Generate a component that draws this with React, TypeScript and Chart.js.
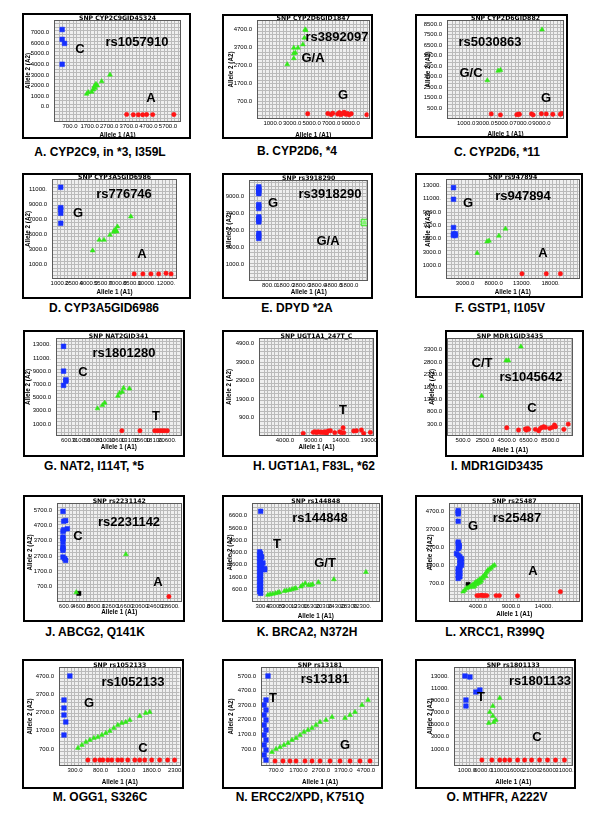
import React, { useEffect, useRef } from "react";
import { Chart, registerables } from "chart.js";
Chart.register(...registerables);

const FAMILY = "'Liberation Sans', Arial, Helvetica, sans-serif";
const TITLE_FAMILY = "'DejaVu Sans', Verdana, sans-serif";
Chart.defaults.font.family = FAMILY;

type Pt = [number, number];

// ---------------- A ----------------
const A_title = "SNP CYP2C9GID45324";
const A_xTicks = [700, 1700, 2700, 3700, 4700, 5700];
const A_yTicks = [0, 1000, 2000, 3000, 4000, 5000, 6000, 7000];
const A_blue: Pt[] = [[300, 7280], [300, 6350], [420, 5970], [300, 4000]];
const A_green: Pt[] = [[1550, 1200], [1635, 1360], [1805, 1390], [1890, 1610], [1925, 1860], [1975, 1980], [2025, 2140], [2095, 1980], [1975, 1760], [2315, 2390], [2740, 3010]];
const A_red: Pt[] = [[3590, -730], [3930, -760], [4185, -770], [4410, -760], [4610, -740], [4920, -750], [6000, -740]];

// ---------------- B ----------------
const B_title = "SNP CYP2D6GID1847";
const B_xTicks = [1000, 3000, 5000, 7000, 9000];
const B_yTicks = [700, 1700, 2700, 3700, 4700];
const B_green: Pt[] = [[2500, 2765], [3170, 3096], [3170, 3372], [3337, 3410], [3170, 3685], [3603, 3685], [4103, 3870], [4270, 4238], [4403, 4661], [4337, 4698]];
const B_red: Pt[] = [[4600, 20], [6670, 30], [7000, -20], [7170, 50], [7670, 0], [7840, 80], [8000, -30], [8170, 30], [8340, 100], [8500, -10], [8670, 40], [8840, -40], [9070, 20], [10670, -30]];

// ---------------- C ----------------
const C_title = "SNP CYP2D6GID882";
const C_xTicks = [1000, 3000, 5000, 7000, 9000];
const C_yTicks = [500, 1500, 2500, 3500, 4500, 5500, 6500, 7500, 8500];
const C_green: Pt[] = [[3258, 3135], [4406, 4055], [4650, 4119], [9069, 7992]];
const C_red: Pt[] = [[3675, -60], [4650, -150], [6390, -130], [6564, -80], [6670, -100], [7955, -60], [8130, -150], [9000, -50], [9520, -60], [10217, -100], [11017, -90], [11156, -20]];

// ---------------- D ----------------
const D_title = "SNP CYP3A5GID6986";
const D_xTicks = [1000, 2500, 4000, 5500, 7000, 8500, 10000, 12000];
const D_yTicks = [1000, 3000, 5000, 7000, 9000, 11000];
const D_blue: Pt[] = [[1100, 11265], [1100, 8563], [1100, 8351], [1100, 7821], [1100, 6497]];
const D_green: Pt[] = [[4403, 2871], [5097, 4285], [5583, 4285], [6208, 4947], [6625, 5477], [6729, 5609], [6833, 5521], [6972, 6051], [8361, 7376], [6600, 5350], [6900, 5400]];
const D_red: Pt[] = [[8708, -219], [9611, -219], [10444, -219], [11243, -219], [12007, -130], [12528, -219]];

// ---------------- E ----------------
const E_title = "SNP rs3918290";
const E_xTicks = [800, 1800, 2800, 3800, 4800, 5800];
const E_yTicks = [1000, 3000, 5000, 7000, 9000];
const E_blue: Pt[] = [[130, 10093], [130, 9898], [130, 9703], [130, 9507], [130, 9312], [130, 8024], [130, 7829], [130, 7556], [130, 6580], [130, 6385], [130, 6190], [130, 5995], [130, 4632], [130, 4355], [130, 4047]];
const E_green: Pt[] = [[6755, 5917]];

// ---------------- F ----------------
const F_title = "SNP rs947894";
const F_xTicks = [3000, 8000, 13000, 18000];
const F_yTicks = [1000, 3000, 5000, 7000, 9000, 11000, 13000];
const F_blue: Pt[] = [[976, 12605], [976, 10876], [976, 6679], [976, 5741], [1300, 5494], [976, 5494], [1300, 5741]];
const F_green: Pt[] = [[5130, 2877], [6860, 4605], [7206, 4704], [8936, 5444], [10090, 6481]];
const F_red: Pt[] = [[12978, -185], [17245, -185], [19725, -185]];

// ---------------- G ----------------
const G_title = "SNP NAT2GID341";
const G_xTicks = [600, 3100, 5600, 8100, 10600, 13100, 15600, 18100, 20600];
const G_yTicks = [1000, 3000, 5000, 7000, 9000, 11000, 13000];
const G_blue: Pt[] = [[-394, 12750], [-394, 9000], [72, 7700], [72, 7500], [-394, 6850]];
const G_green: Pt[] = [[6474, 3360], [7474, 3855], [7940, 4205], [10606, 5255], [10940, 5705], [11474, 5855], [11740, 6455], [12940, 6355]];
const G_red: Pt[] = [[11406, 0], [15074, 0], [18074, 0], [18606, 0], [19140, 0], [19606, 0], [20074, 0], [20606, 0]];

// ---------------- H ----------------
const H_title = "SNP UGT1A1_247T_C";
const H_xTicks = [4000, 9000, 14000, 19000];
const H_yTicks = [900, 1900, 2900, 3900, 4900];
const H_red: Pt[] = [[7233, 66], [9000, 120], [9291, 155], [9586, 102], [9880, 155], [10173, 120], [10467, 137], [10760, 102], [11054, 155], [11348, 66], [11642, 191], [12054, 208], [12818, 102], [13700, 155], [13995, 102], [14289, 368], [14406, 102], [16169, 191], [16640, 208], [17522, 244], [17934, 66], [19109, 120]];

// ---------------- I ----------------
const I_title = "SNP MDR1GID3435";
const I_xTicks = [500, 2500, 4500, 6500, 8500];
const I_yTicks = [300, 800, 1300, 1800, 2300, 2800, 3300];
const I_green: Pt[] = [[5810, 3420], [4454, 2860], [4670, 2860], [2200, 1433]];
const I_red: Pt[] = [[4514, 153], [5594, 60], [6213, 100], [6305, 60], [6429, 127], [6522, 87], [7142, 87], [7450, 33], [7605, 127], [7759, 167], [7914, 193], [8068, 167], [8469, 127], [8685, 167], [8898, 260], [8991, 193], [9762, 87], [10164, 300]];

// ---------------- J ----------------
const J_title = "SNP rs2231142";
const J_xTicks = [600, 4600, 8600, 12600, 16600, 20600, 24600, 28600];
const J_yTicks = [700, 1700, 2700, 3700, 4700, 5700];
const J_blue: Pt[] = [[-300, 5656], [-120, 4998], [413, 5042], [-120, 4428], [858, 4500], [-300, 4318], [-300, 3945], [-300, 3836], [-300, 3616], [-300, 3287], [-300, 3178], [-300, 3068], [-300, 2629], [145, 2520], [413, 2410]];
const J_green: Pt[] = [[16590, 2805], [3260, 283]];
const J_black: Pt[] = [[3970, 217]];
const J_red: Pt[] = [[28150, 9]];

// ---------------- K ----------------
const K_title = "SNP rs144848";
const K_xTicks = [300, 4300, 8300, 12300, 16300, 20300, 24300, 28300, 32300];
const K_yTicks = [600, 1600, 2600, 3600, 4600, 5600, 6600];
const K_blue: Pt[] = [[-436, 6949], [-756, 3644], [-436, 3510], [-756, 3376], [-116, 3240], [-756, 3107], [-436, 2972], [-756, 2838], [310, 2750], [-436, 2704], [-756, 2570], [-116, 2436], [-756, 2301], [844, 2301], [844, 2200], [-436, 2167], [-756, 2032], [-436, 1898], [-756, 1764], [-436, 1630], [-756, 1495], [-436, 1360], [-756, 1226], [-436, 1092], [-756, 958], [-436, 823], [-756, 689], [-436, 555], [-756, 420], [-436, 286]];
const K_green: Pt[] = [[1900, 152], [2647, 206], [3500, 233], [4353, 286], [5100, 340], [5633, 367], [7233, 474], [7980, 501], [8833, 555], [9687, 609], [10433, 662], [10967, 689], [12567, 824], [13100, 958], [13953, 1092], [15020, 958], [15767, 958], [16300, 1012], [18220, 1173], [23233, 1415], [33580, 2006]];

// ---------------- L ----------------
const L_title = "SNP rs25487";
const L_xTicks = [4000, 9000, 14000];
const L_yTicks = [700, 1700, 2700, 3700, 4700];
const L_blue: Pt[] = [[1000, 4755], [1000, 4663], [1000, 4571], [1000, 4166], [1000, 3006], [1000, 2914], [1150, 2822], [1150, 2730], [1000, 2638], [750, 2361], [1000, 2269], [1250, 2177], [1500, 2085], [1250, 1993], [1500, 1901], [1250, 1809], [1500, 1717], [1250, 1625], [1000, 1533], [1250, 1441], [1000, 1349], [1250, 1257], [1000, 1164], [1250, 1072], [1000, 980]];
const L_green: Pt[] = [[1750, 243], [2000, 335], [2250, 427], [2500, 464], [2750, 519], [3000, 575], [3250, 648], [3500, 704], [3650, 759], [3850, 796], [4000, 851], [4250, 925], [4500, 980], [4750, 1072], [5000, 1164], [5150, 1257], [5350, 1349], [5500, 1441], [5750, 1496], [6000, 1569], [6250, 1662], [6500, 1717], [3500, 550], [3250, 500], [4000, 700], [4500, 850], [4750, 1000], [3750, 650], [5200, 1100], [4300, 760]];
const L_black: Pt[] = [[2500, 648]];
const L_red: Pt[] = [[3850, 22], [4150, 22], [4500, 40], [4750, 22], [5000, 30], [5350, 22], [6750, 22], [7250, 22], [10000, 10], [16500, 243]];

// ---------------- M ----------------
const M_title = "SNP rs1052133";
const M_xTicks = [300, 800, 1300, 1800, 2300];
const M_yTicks = [700, 1700, 2700, 3700, 4700];
const M_blue: Pt[] = [[200, 4700], [85, 3385], [85, 2946], [85, 2563], [120, 2180], [85, 1467]];
const M_green: Pt[] = [[358, 755], [436, 919], [514, 1084], [592, 1193], [670, 1303], [748, 1358], [826, 1467], [904, 1577], [982, 1686], [1060, 1851], [1138, 2015], [1216, 2125], [1294, 2179], [1372, 2289], [1567, 2508], [1684, 2673], [1762, 2727]];
const M_red: Pt[] = [[553, 97], [690, 97], [787, 97], [846, 97], [943, 97], [1021, 97], [1138, 97], [1216, 97], [1333, 97], [1470, 97], [1567, 97], [1665, 97], [1801, 97], [1957, 97], [2113, 97], [2249, 97]];

// ---------------- N ----------------
const N_title = "SNP rs13181";
const N_xTicks = [700, 1700, 2700, 3700, 4700];
const N_yTicks = [700, 1700, 2700, 3700, 4700, 5700];
const N_blue: Pt[] = [[344, 5700], [256, 4056], [167, 3714], [256, 3371], [167, 3029], [256, 2686], [167, 2344], [256, 2001], [167, 1659], [256, 1316], [167, 974], [256, 631], [167, 289], [256, -54]];
const N_green: Pt[] = [[522, 495], [700, 700], [878, 837], [1056, 974], [1233, 1111], [1411, 1316], [1589, 1453], [1767, 1659], [1944, 1864], [2122, 2001], [2300, 2138], [2478, 2344], [2656, 2549], [2922, 2686], [3189, 2892], [3767, 2823], [3989, 3029], [4211, 3234], [4522, 3714], [4789, 4056]];
const N_red: Pt[] = [[656, -122], [1011, -122], [1322, -122], [1589, -122], [1989, -122], [2300, -122], [2656, -122], [3100, -122], [3544, -122], [3989, -122], [4433, -122], [4878, -122]];

// ---------------- O ----------------
const O_title = "SNP rs1801133";
const O_xTicks = [1000, 6000, 11000, 16000, 21000, 26000, 31000];
const O_yTicks = [1000, 3000, 5000, 7000, 9000, 11000, 13000];
const O_blue: Pt[] = [[388, 13000], [1917, 12836], [3752, 10368], [4976, 10697], [694, 9053], [694, 8066]];
const O_green: Pt[] = [[11092, 9382], [8951, 8066], [8034, 7079], [8951, 6421], [9869, 5763], [7728, 5270], [9257, 5434]];
const O_red: Pt[] = [[5587, -816], [8645, -816], [11092, -816], [12621, -816], [14150, -816], [16596, -816], [18737, -816], [20878, -816], [23324, -816], [25771, -816], [28217, -816], [30969, -816]];

// ---------------- layout (page pixels) ----------------
type Note = [string, number, number];
type PanelDef = {
  title: string;
  xTicks: number[];
  yTicks: number[];
  blue?: Pt[];
  green?: Pt[];
  red?: Pt[];
  black?: Pt[];
  greenBox?: Pt[];
  box: [number, number, number, number];
  canvasL: number;
  plot: [number, number, number, number];
  xr: [number, number];
  yr: [number, number];
  ytX: number;
  xtY: number;
  caption: string;
  cap: [number, number];
  notes: Note[];
};

const PANELS: PanelDef[] = [
  { title: A_title, xTicks: A_xTicks, yTicks: A_yTicks, blue: A_blue, green: A_green, red: A_red,
    box: [22, 13, 190, 138], canvasL: 22, plot: [55, 21, 180, 121], xr: [-65, 6312], yr: [-1355, 8084],
    ytX: 28.5, xtY: 135, caption: "A. CYP2C9, in *3, I359L", cap: [100, 152],
    notes: [["rs1057910", 137, 42], ["C", 80, 49], ["A", 151, 98]] },
  { title: B_title, xTicks: B_xTicks, yTicks: B_yTicks, green: B_green, red: B_red,
    box: [222, 14, 372, 138], canvasL: 222, plot: [258, 21, 371, 118], xr: [-500, 10840], yr: [-217, 5175],
    ytX: 231, xtY: 135, caption: "B. CYP2D6, *4", cap: [297, 151],
    notes: [["rs3892097", 337, 37], ["G/A", 313, 58], ["G", 343, 95]] },
  { title: C_title, xTicks: C_xTicks, yTicks: C_yTicks, green: C_green, red: C_red,
    box: [415, 14, 567, 137], canvasL: 415, plot: [448, 21, 563, 118], xr: [-920, 11300], yr: [-452, 8814],
    ytX: 428, xtY: 134, caption: "C. CYP2D6, *11", cap: [497, 152],
    notes: [["rs5030863", 490, 42], ["G/C", 471, 73], ["G", 546, 98]] },
  { title: D_title, xTicks: D_xTicks, yTicks: D_yTicks, blue: D_blue, green: D_green, red: D_red,
    box: [22, 173, 190, 298], canvasL: 22, plot: [53, 180, 176, 278], xr: [300, 13040], yr: [-762, 12230],
    ytX: 28.5, xtY: 292, caption: "D. CYP3A5GID6986", cap: [104, 308],
    notes: [["rs776746", 124, 194], ["G", 78, 213], ["A", 142, 254]] },
  { title: E_title, xTicks: E_xTicks, yTicks: E_yTicks, blue: E_blue, green: E_green, greenBox: E_green,
    box: [222, 173, 372, 298], canvasL: 222, plot: [250, 181, 371, 280], xr: [-420, 6940], yr: [-838, 10790],
    ytX: 229, xtY: 292, caption: "E. DPYD *2A", cap: [297, 308],
    notes: [["rs3918290", 330, 194], ["G", 273, 203], ["G/A", 328, 241]] },
  { title: F_title, xTicks: F_xTicks, yTicks: F_yTicks, blue: F_blue, green: F_green, red: F_red,
    box: [415, 173, 582, 297], canvasL: 415, plot: [447, 180, 580, 278], xr: [-166, 22900], yr: [-822, 13740],
    ytX: 428, xtY: 292.5, caption: "F. GSTP1, I105V", cap: [500, 308],
    notes: [["rs947894", 523, 196], ["G", 468, 203], ["A", 543, 253]] },
  { title: G_title, xTicks: G_xTicks, yTicks: G_yTicks, blue: G_blue, green: G_green, red: G_red,
    box: [23, 330, 184, 456], canvasL: 23, plot: [57, 339, 182, 435], xr: [-1720, 23280], yr: [-650, 13855],
    ytX: 28.5, xtY: 447.5, caption: "G. NAT2, I114T, *5", cap: [94, 466],
    notes: [["rs1801280", 124, 353], ["C", 83, 372], ["T", 156, 416]] },
  { title: H_title, xTicks: H_xTicks, yTicks: H_yTicks, red: H_red,
    box: [222, 330, 377, 456], canvasL: 222, plot: [260, 339, 373, 435], xr: [-410, 19580], yr: [-23, 5135],
    ytX: 229, xtY: 447.5, caption: "H. UGT1A1, F83L, *62", cap: [314, 466],
    notes: [["T", 343, 410]] },
  { title: I_title, xTicks: I_xTicks, yTicks: I_yTicks, green: I_green, red: I_red,
    box: [445, 330, 583, 456], canvasL: 415, plot: [448, 339, 572, 435], xr: [-890, 10510], yr: [-140, 3728],
    ytX: 432, xtY: 450, caption: "I. MDR1GID3435", cap: [497, 466],
    notes: [["C/T", 482, 363], ["rs1045642", 531, 377], ["C", 532, 408]] },
  { title: J_title, xTicks: J_xTicks, yTicks: J_yTicks, blue: J_blue, green: J_green, black: J_black, red: J_red,
    box: [23, 495, 184, 621], canvasL: 23, plot: [58, 504, 182, 601], xr: [-1640, 31270], yr: [-287, 6140],
    ytX: 30, xtY: 612.5, caption: "J. ABCG2, Q141K", cap: [95, 632],
    notes: [["rs2231142", 129, 522], ["C", 78, 536], ["A", 158, 582]] },
  { title: K_title, xTicks: K_xTicks, yTicks: K_yTicks, blue: K_blue, green: K_green,
    box: [222, 495, 382, 621], canvasL: 222, plot: [253, 504, 380, 601], xr: [-2900, 37640], yr: [-340, 7540],
    ytX: 230, xtY: 616.5, caption: "K. BRCA2, N372H", cap: [307, 632],
    notes: [["rs144848", 320, 518], ["T", 277, 544], ["G/T", 325, 563]] },
  { title: L_title, xTicks: L_xTicks, yTicks: L_yTicks, blue: L_blue, green: L_green, black: L_black, red: L_red,
    box: [415, 495, 582, 621], canvasL: 415, plot: [450, 504, 580, 601], xr: [-243, 19250], yr: [-278, 5125],
    ytX: 430, xtY: 614, caption: "L. XRCC1, R399Q", cap: [495, 632],
    notes: [["rs25487", 517, 518], ["G", 473, 526], ["A", 533, 571]] },
  { title: M_title, xTicks: M_xTicks, yTicks: M_yTicks, blue: M_blue, green: M_green, red: M_red,
    box: [22, 659, 183, 788], canvasL: 22, plot: [60, 668, 180, 765], xr: [7, 2345], yr: [-177, 5138],
    ytX: 30, xtY: 782, caption: "M. OGG1, S326C", cap: [100, 797],
    notes: [["rs1052133", 133, 682], ["G", 89, 703], ["C", 143, 748]] },
  { title: N_title, xTicks: N_xTicks, yTicks: N_yTicks, blue: N_blue, green: N_green, red: N_red,
    box: [222, 659, 382, 788], canvasL: 222, plot: [262, 668, 378, 765], xr: [78, 5233], yr: [-396, 6248],
    ytX: 231, xtY: 782, caption: "N. ERCC2/XPD, K751Q", cap: [300, 797],
    notes: [["rs13181", 325, 679], ["T", 273, 698], ["G", 345, 745]] },
  { title: O_title, xTicks: O_xTicks, yTicks: O_yTicks, blue: O_blue, green: O_green, red: O_red,
    box: [415, 659, 575, 788], canvasL: 415, plot: [455, 668, 572, 765], xr: [-2670, 33140], yr: [-1630, 14315],
    ytX: 430, xtY: 782, caption: "O. MTHFR, A222V", cap: [497, 797],
    notes: [["rs1801133", 540, 681], ["T", 481, 697], ["C", 537, 737]] },
];

const fmt = (v: number) => Number(v).toFixed(1).slice(0, 6);
const toXY = (pts: Pt[]) => pts.map(([x, y]) => ({ x, y }));

const BLUE = "#1630ff";
const GREEN = "#33e81a";
const RED = "#ff1414";

function buildConfig(p: PanelDef): any {
  const [bl, bt, br, bb] = p.box;
  const [pl, pt, pr, pb] = p.plot;
  const W = br - p.canvasL + 1;
  const H = bb - bt + 1;
  const lh = 6.3 * 1.2;
  const datasets: any[] = [];
  if (p.red) datasets.push({ data: toXY(p.red), pointStyle: "circle", pointRadius: 2.2, backgroundColor: RED, borderColor: RED, borderWidth: 0.5 });
  if (p.blue) datasets.push({ data: toXY(p.blue), pointStyle: "rect", pointRadius: 3.3, backgroundColor: BLUE, borderColor: BLUE, borderWidth: 0.5 });
  if (p.greenBox) datasets.push({ data: toXY(p.greenBox), pointStyle: "rect", pointRadius: 4.6, backgroundColor: "rgba(180,255,170,0.6)", borderColor: GREEN, borderWidth: 1 });
  if (p.green) datasets.push({ data: toXY(p.green), pointStyle: "triangle", pointRadius: 2.8, backgroundColor: GREEN, borderColor: GREEN, borderWidth: 0.5 });
  if (p.black) datasets.push({ data: toXY(p.black), pointStyle: "rect", pointRadius: 3, backgroundColor: "#000", borderColor: "#000", borderWidth: 0.5 });

  const zeroPad = (s: any) => { s.paddingLeft = 0; s.paddingRight = 0; s.paddingTop = 0; s.paddingBottom = 0; };

  const panelPlugin = {
    id: "panelDeco",
    beforeDatasetsDraw(chart: any) {
      const { ctx, chartArea: ca } = chart;
      ctx.save();
      ctx.fillStyle = "#efefef";
      ctx.fillRect(ca.left, ca.top, ca.right - ca.left, ca.bottom - ca.top);
      ctx.strokeStyle = "#bababa";
      ctx.lineWidth = 1;
      ctx.beginPath();
      for (let x = ca.left + 3.5; x < ca.right - 0.5; x += 3.5) {
        const px = Math.round(x) + 0.5;
        ctx.moveTo(px, ca.top);
        ctx.lineTo(px, ca.bottom);
      }
      for (let y = ca.bottom - 3.5; y > ca.top + 0.5; y -= 3.5) {
        const py = Math.round(y) + 0.5;
        ctx.moveTo(ca.left, py);
        ctx.lineTo(ca.right, py);
      }
      ctx.stroke();
      ctx.restore();
    },
    afterDraw(chart: any) {
      const { ctx, chartArea: ca } = chart;
      ctx.save();
      ctx.strokeStyle = "#5a5a5a";
      ctx.lineWidth = 1;
      ctx.strokeRect(Math.round(ca.left) - 0.5, Math.round(ca.top) - 0.5, Math.round(ca.right - ca.left) + 1, Math.round(ca.bottom - ca.top) + 1);
      ctx.strokeStyle = "#000";
      ctx.lineWidth = 2;
      ctx.strokeRect(bl - p.canvasL + 1, 1, br - bl - 1, bb - bt - 1);
      ctx.fillStyle = "#000";
      ctx.font = "bold 6.2px " + TITLE_FAMILY;
      ctx.textAlign = "center";
      ctx.textBaseline = "alphabetic";
      ctx.fillText(p.title, (ca.left + ca.right) / 2, ca.top - 1);
      ctx.font = "bold 13px " + FAMILY;
      ctx.textBaseline = "middle";
      for (const [t, x, y] of p.notes) ctx.fillText(t, x - p.canvasL, y - bt);
      ctx.restore();
    },
  };

  return {
    type: "scatter",
    data: { datasets },
    plugins: [panelPlugin],
    options: {
      animation: false,
      responsive: false,
      devicePixelRatio: 1,
      events: [],
      layout: { padding: { left: 0, top: pt - bt, right: W - (pr - p.canvasL), bottom: 0 } },
      plugins: { legend: { display: false }, tooltip: { enabled: false }, title: { display: false } },
      scales: {
        x: {
          type: "linear",
          min: p.xr[0],
          max: p.xr[1],
          afterBuildTicks: (s: any) => { s.ticks = p.xTicks.map((v) => ({ value: v })); },
          afterFit: (s: any) => { s.height = H - (pb - bt); zeroPad(s); },
          grid: { display: false, drawTicks: false },
          border: { display: false },
          ticks: { autoSkip: false, maxRotation: 0, minRotation: 0, padding: 2, color: "#000", font: { size: 6 }, callback: (v: number) => fmt(v) },
          title: { display: true, text: "Allele 1 (A1)", color: "#000", font: { size: 6.3, weight: "bold" }, padding: { top: 0, bottom: Math.max(0, bb + 1 - lh / 2 - p.xtY) } },
        },
        y: {
          type: "linear",
          min: p.yr[0],
          max: p.yr[1],
          afterBuildTicks: (s: any) => { s.ticks = p.yTicks.map((v) => ({ value: v })); },
          afterFit: (s: any) => { s.width = pl - p.canvasL; zeroPad(s); },
          grid: { display: false, drawTicks: false },
          border: { display: false },
          ticks: { autoSkip: false, padding: 6, color: "#000", font: { size: 6 }, callback: (v: number) => fmt(v) },
          title: { display: true, text: "Allele 2 (A2)", color: "#000", font: { size: 6.3, weight: "bold" }, padding: { top: Math.max(0, p.ytX - p.canvasL - lh / 2), bottom: 0 } },
        },
      },
    },
  };
}

function Panel({ p }: { p: PanelDef }) {
  const ref = useRef<HTMLCanvasElement>(null);
  const [, bt, br, bb] = p.box;
  const W = br - p.canvasL + 1;
  const H = bb - bt + 1;
  useEffect(() => {
    const chart = new Chart(ref.current as HTMLCanvasElement, buildConfig(p));
    return () => chart.destroy();
  }, [p]);
  return (
    <>
      <canvas ref={ref} width={W} height={H} style={{ position: "absolute", left: p.canvasL, top: bt, width: W, height: H }} />
      <div style={{ position: "absolute", left: p.cap[0], top: p.cap[1], transform: "translate(-50%, -50%)", whiteSpace: "nowrap", font: "bold 12px " + FAMILY, color: "#000" }}>
        {p.caption}
      </div>
    </>
  );
}

export default function App() {
  return (
    <div style={{ position: "absolute", left: 0, top: 0, width: 600, height: 831, background: "#fff", overflow: "hidden" }}>
      {PANELS.map((p, i) => (
        <Panel key={i} p={p} />
      ))}
    </div>
  );
}
